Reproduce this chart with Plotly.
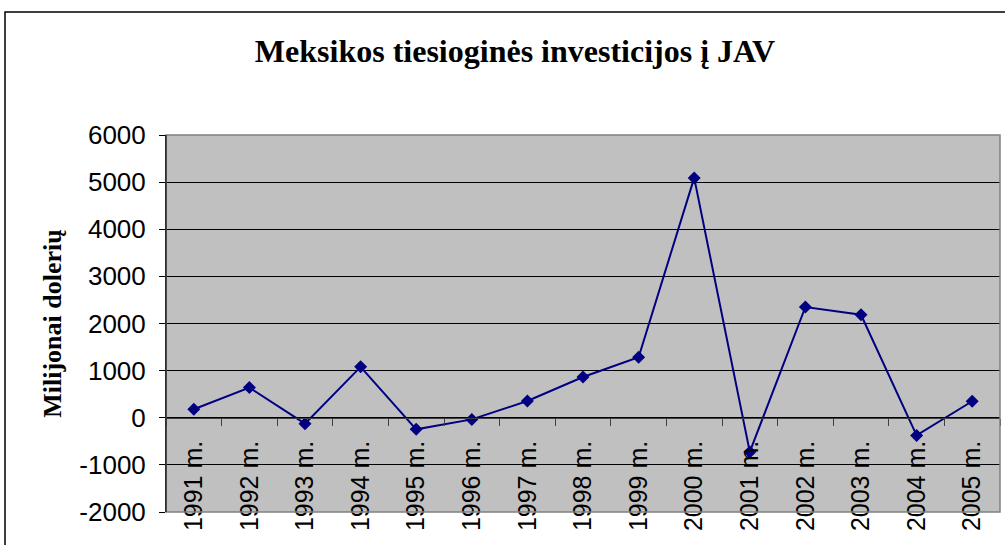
import plotly.graph_objects as go

years = ["1991 m.", "1992 m.", "1993 m.", "1994 m.", "1995 m.", "1996 m.", "1997 m.",
         "1998 m.", "1999 m.", "2000 m.", "2001 m.", "2002 m.", "2003 m.", "2004 m.", "2005 m."]
values = [180, 640, -125, 1080, -245, -35, 355, 865, 1285, 5090, -725, 2350, 2185, -375, 350]
y_ticks = [-2000, -1000, 0, 1000, 2000, 3000, 4000, 5000, 6000]
y_tick_labels = [str(v) for v in y_ticks]

title_text = "Meksikos tiesioginės investicijos į JAV"
y_title = "Milijonai dolerių"

# body margin is removed by post_script, so page offset is 0
OFF = 0
W, H = 1005, 545
SL, SR, ST, SB = 166, 1000, 135, 512
L, T = SL - OFF, ST - OFF
R = W - (SR - OFF)
B = H - (SB - OFF)
pw, ph = W - L - R, H - T - B

def px_x(px):
    return (px - OFF - L) / pw

def px_y(py):
    return (H - B - (py - OFF)) / ph

fig = go.Figure()
fig.add_trace(go.Scatter(
    x=years, y=values, mode="lines+markers",
    line=dict(color="#000080", width=2),
    marker=dict(symbol="diamond", size=10, color="#000080"),
    cliponaxis=False,
))

ymin, ymax = -2000, 6000
fig.update_layout(
    width=W, height=H,
    margin=dict(l=L, r=R, t=T, b=B, autoexpand=False),
    paper_bgcolor="white",
    plot_bgcolor="#C0C0C0",
    showlegend=False,
    title=dict(text=f"<b>{title_text}</b>", x=(515 - OFF) / W, xref="container", xanchor="center",
               y=1 - (51 - OFF) / H, yref="container", yanchor="middle",
               font=dict(family="Liberation Serif", size=32, color="black")),
    xaxis=dict(
        type="category", range=[-0.5, 14.5], automargin=False,
        anchor="free", position=(0 - ymin) / (ymax - ymin),
        showline=True, linecolor="#404040", linewidth=1,
        ticks="outside", ticklen=7, tickcolor="#404040", tickson="boundaries",
        tickangle=-90, showgrid=False, ticklabelstandoff=12,
        tickfont=dict(family="Liberation Sans", size=25, color="black"),
    ),
    yaxis=dict(
        range=[ymin, ymax], tickvals=y_ticks, ticktext=y_tick_labels, zeroline=False,
        automargin=False,
        showline=True, linecolor="black", linewidth=1,
        ticks="outside", ticklen=6, tickcolor="black",
        showgrid=True, gridcolor="black", gridwidth=1,
        ticklabelstandoff=8,
        tickfont=dict(family="Liberation Sans", size=26, color="black"),
        title=dict(text=f"<b>{y_title}</b>", standoff=10,
                   font=dict(family="Liberation Serif", size=26, color="black")),
    ),
    shapes=[
        dict(type="rect", xref="paper", yref="paper", x0=0, x1=1, y0=0, y1=1,
             line=dict(color="#808080", width=1.5), layer="above"),
        dict(type="rect", xref="paper", yref="paper",
             x0=px_x(5), x1=px_x(1040), y0=px_y(600), y1=px_y(12),
             line=dict(color="black", width=1.5), layer="above"),
        dict(type="line", xref="paper", yref="paper", x0=0, x1=0, y0=0, y1=1,
             line=dict(color="black", width=1), layer="above"),
    ],
)

fig.write_html("out.html", config={"displayModeBar": False},
               post_script="document.body.style.margin='0';document.body.style.overflow='hidden';")
